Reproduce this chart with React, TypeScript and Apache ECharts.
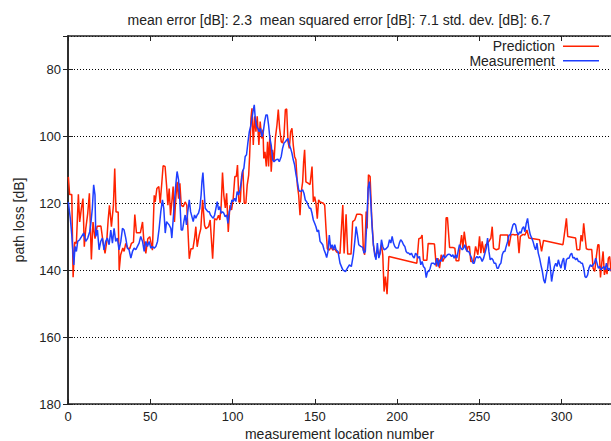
import React, { useEffect, useRef } from 'react';
import * as echarts from 'echarts';

const titleText = 'mean error [dB]: 2.3  mean squared error [dB]: 7.1 std. dev. [dB]: 6.7';
const xName = 'measurement location number';
const yName = 'path loss [dB]';
const seriesNames = ['Prediction', 'Measurement'];

const prediction: [number, number][] = [
  [0.2,112.1],[1,117.4],[2.3,117.4],[3.1,142.1],[4.1,131.6],[5.1,132],[6.3,117.3],[7.1,125.6],[8.1,121.6],[9.1,118.6],
  [9.9,133],[10.8,127.6],[12,123],[13,117],[14.2,136.8],[15.2,125.6],[16.4,130.6],[17.7,126.9],[20,126.8],[21.3,131.6],
  [22.5,135],[23.5,131.6],[24.4,125],[25.2,120.6],[26.4,127],[27.6,120.6],[28.4,109.6],[29.2,122.6],[30.5,122.6],[31.1,140],
  [32,135.4],[33.3,133.4],[34.1,134.4],[35.1,132],[36.3,133.4],[37.5,133.6],[38.5,132],[39.8,131.6],[40.6,123.4],[41.6,128.8],
  [44,128.8],[45.3,125.6],[46,130.6],[47.3,135],[48.5,130.6],[49.7,130],[50.5,132],[51.3,134],[52.4,117.6],[53,119.6],
  [54,115.6],[55.2,115],[56,120],[57,114],[57.8,108.8],[59,109],[59.9,114.6],[60.7,120.6],[61.5,115.6],[62.3,123.6],
  [63.1,119.6],[63.9,115],[64.7,125.6],[65.5,118.6],[66.3,113.6],[67.2,118.6],[68,114],[68.8,120.6],[70,121],[71.2,119.6],
  [72.2,120.6],[73.7,136.6],[74.7,133.6],[75.9,133.6],[76.9,130.6],[77.7,127],[78.5,133],[79.7,129.6],[80.7,127.6],[81.8,119],
  [83,126.6],[83.8,127.6],[85.4,127],[86.4,125],[87.9,136.6],[89.1,124.6],[90.3,125],[91.5,123.6],[92.3,125],[93.1,120.6],
  [93.9,110.8],[94.7,117.6],[95.6,121.4],[96.4,117],[97.4,128.6],[98.4,120.6],[99.4,122],[100.4,118.6],[101.4,112],[102.3,112],
  [103,108.6],[103.9,119.6],[104.7,119.6],[105.5,112],[106.3,110],[107.1,120],[108.1,120],[108.9,114.6],[109.8,111.6],[110.4,105.6],
  [111.2,94.6],[111.8,91.6],[112.6,102.6],[113.4,94],[114.2,98.6],[115,94],[116,102.6],[116.8,95.6],[117.7,100.6],[118.5,98],
  [119,106.6],[119.7,104.6],[120.5,109],[121.3,101.6],[121.9,109],[122.7,99.6],[123.5,110.6],[124.3,104],[125.2,107.6],[126,100.6],
  [127,96.6],[127.8,92],[128.6,97.6],[129.6,101.6],[130.4,102],[131.3,99.6],[132.1,92],[132.9,91.8],[133.7,101.6],[134.5,103.6],
  [135.3,98.6],[136.1,97.6],[136.9,102.6],[137.7,106],[138.5,107],[139.4,114.6],[140.2,117.6],[141,123.6],[141.8,116.6],[142.6,113.6],
  [143.2,107.6],[143.8,104],[144.6,113.6],[145.9,114],[147.1,114.4],[148.3,109],[149.1,119.6],[149.9,118],[150.7,120],[151.5,124.6],
  [152.3,119],[153.2,119.6],[155.2,120],[156,120.6],[156.8,127.6],[157.6,133.6],[158.8,134],[159.9,133],[160.9,134],[162.1,133.6],
  [163.3,134.6],[165.3,135],[167,120.5],[167.8,135],[169,123.3],[170,135.2],[172,135.2],[173,125.5],[174.3,125],[175.5,123.3],
  [177.5,123.3],[178.7,123.5],[179.5,134],[180.3,135.4],[181.2,122.5],[181.8,127.5],[182.6,111.5],[183.6,112],[184.6,124.5],[185.6,132.4],
  [186.8,136],[188,134.4],[189.3,135.4],[190.5,132.4],[191.3,135.4],[192.1,146.4],[192.9,141.9],[193.9,147.2],[195,135.9],[212,137.9],
  [213.2,130.6],[214.4,130.4],[215.2,129.5],[216,137],[218.1,137],[218.9,132],[221.7,132.1],[222.7,132.2],[223.8,138.9],[224.8,136.4],
  [225.8,139.4],[226.8,135.4],[227.8,137.4],[229,135.9],[229.8,124.3],[230.6,124.3],[231.9,133.2],[233.9,133.2],[235.1,133.4],[235.9,137.2],
  [237.5,137.2],[238.4,132.4],[239.2,129.5],[240,133.4],[240.8,128.5],[241.6,131.4],[242.4,134.4],[243.2,132.9],[244,132.9],[244.8,137.4],
  [246.5,137.4],[247.7,132.9],[249.1,135.4],[250.1,129.9],[250.9,134.9],[251.7,131.4],[252.8,134.9],[253.8,132.4],[255,131.9],[255.8,131.4],
  [257,130.4],[257.8,127],[258.6,133.4],[260.3,133.9],[261.9,133.6],[262.7,129.5],[264.3,129.5],[265.9,129.5],[267.2,129.5],[268,132.9],
  [269.2,129.5],[270.4,129.3],[271.6,129.5],[273.2,129.3],[274.1,134.9],[274.9,129.9],[276.5,129.3],[277.7,129.5],[278.9,128],[280.1,130.4],
  [286.6,130.9],[287.8,134.4],[289,131.1],[300.8,132.4],[302,128],[302.9,124.5],[303.7,129.9],[308.5,130.4],[309.3,133.9],[311,133.9],
  [311.8,129.5],[312.6,131.4],[313.4,126],[314.2,129.9],[315,133.6],[316.2,133.8],[318.3,133.8],[319.1,139.4],[320.1,140.4],[321.1,135.9],
  [322,132.4],[322.7,132.4],[323.6,142.2],[324.4,137.9],[325.2,134.4],[326,141.4],[326.8,139.4],[327.6,141.2],[328.4,136.4],[329.2,135.9],
  [330,140.4]
];

const measurement: [number, number][] = [
  [0.2,119.6],[1.4,124.5],[2.3,129.5],[3.5,138.4],[4.3,132.9],[5.1,134.4],[5.9,131.4],[7.1,130.9],[8.3,129.9],[9.5,128.9],
  [10.8,131.4],[12,130.4],[13.2,128.5],[14,125.5],[14.8,121.5],[15.6,114.5],[16.4,117.5],[16.9,129.9],[17.9,128],[18.9,133.9],
  [19.9,131.4],[20.9,130.4],[21.9,133.9],[22.9,131.4],[23.9,130.4],[25,132.4],[26,128],[27,131.9],[28,127.5],[29,131.4],
  [30,130.4],[31,133.9],[32.1,131.4],[33.1,127.5],[34.1,128],[35.1,130.4],[36.1,133.4],[37.1,133.9],[38.2,136.4],[39.2,134.4],
  [40.2,133.4],[41.2,133.9],[42.2,132.9],[43.2,131.9],[44.2,129.9],[45.3,131.4],[46.3,134.4],[47.3,131.4],[48.3,132.9],[49.3,131.4],
  [50.3,133.4],[51.3,132.9],[52.4,133.4],[53.4,132.9],[54.4,131.4],[55.4,127.5],[56.4,122.5],[57.4,119],[58.2,121.5],[59.1,128.9],
  [59.9,125.5],[60.7,126],[61.5,126.5],[62.5,127.5],[63.1,130.4],[63.9,125],[64.7,119.5],[65.5,114.5],[66.3,110.5],[67.2,113],
  [68,119.5],[68.8,128],[69.6,128],[70.4,125.5],[71.2,123.5],[72,126.5],[72.8,122.5],[73.7,119],[74.5,122.5],[75.3,124],
  [76.1,125.5],[76.9,123.5],[77.7,124.5],[78.5,123.5],[79.3,123],[80.1,121.5],[80.9,117.5],[81.4,113.5],[82,110.8],[82.6,115.5],
  [83.4,121.5],[84.2,122],[85,122.5],[85.8,122.5],[86.6,123.5],[87.4,124],[88.3,124.5],[89.1,123.5],[89.9,121.5],[90.7,119.5],
  [91.5,122],[92.3,121],[93.1,123],[93.9,122.5],[94.7,123],[95.5,124],[96.4,123.5],[97.2,126],[98,122.5],[98.8,121.5],
  [99.6,119],[100.4,119.5],[101.2,118.5],[102,119.5],[102.8,116.5],[103.7,117.5],[104.5,116],[105.3,113.5],[106.1,110.5],[106.9,109.5],
  [107.7,106],[108.5,105.5],[109.3,102],[110.2,98.6],[111,97],[111.8,94.6],[112.6,92.1],[113.2,90.6],[113.8,94.6],[114.6,97],
  [115.4,97.6],[116.2,98.6],[117,97.6],[117.9,100.1],[118.7,98.6],[119.5,95.6],[120.3,93.6],[121.1,93.6],[121.9,96.6],[122.7,100.6],
  [123.5,102.6],[124.4,107],[125.2,107.6],[126.4,107],[127.6,106.8],[128.4,107.6],[129.6,106],[130.4,103.6],[131.3,102],[132.1,101.6],
  [132.9,101.1],[133.7,100.6],[134.5,102.6],[135.3,103.6],[136.1,105],[136.9,107],[137.7,108.5],[138.6,111.5],[139.4,113.5],[140.2,116],
  [141,116.5],[141.8,116.3],[142.6,116],[143.4,117],[144.2,119],[145,119.5],[145.9,120.5],[146.7,121.5],[147.5,121.5],[148.3,123],
  [149.1,125],[149.9,126],[150.7,127],[151.5,128.5],[152.3,128],[153.2,131.4],[154,131.9],[154.8,132.4],[155.6,133.9],[156.4,134.9],
  [157.2,136.2],[158,134.4],[158.8,129.5],[159.6,133.4],[160.5,132.4],[161.3,133.9],[162.1,132.4],[162.9,133.9],[164.1,134.4],[165.3,137.9],
  [167,139.9],[168.6,140.4],[169.8,139.4],[171,138.4],[172.2,138.9],[173.4,135.4],[174.3,131.4],[175.1,127],[175.9,129.5],[176.7,132.4],
  [177.9,132.9],[179.1,133.2],[179.9,134.9],[180.7,134.4],[181.6,125.5],[182.4,115.5],[183.2,113.5],[184,119.5],[184.8,127],[185.6,132.4],
  [186.4,135.4],[187.2,136.9],[188,131.9],[188.9,136.4],[189.7,134.9],[190.5,130.9],[191.3,132.9],[192.1,133.9],[193.3,133.6],[194.5,132.9],
  [195.4,130.9],[196.2,131.9],[197,129.9],[197.8,131.9],[198.6,132.9],[199.4,133.4],[200.6,133.4],[201.4,131.9],[202.2,130.9],[203,131.4],
  [203.9,132.4],[204.7,132.9],[205.5,134.4],[206.3,134.9],[207.1,134.9],[207.9,135.4],[208.7,134.9],[209.6,135.9],[210.4,136.4],[211.2,134.9],
  [212,135.4],[212.8,136.4],[213.6,135.9],[214.4,138.4],[215.2,137.4],[216,138.9],[216.9,139.4],[217.7,142.2],[218.5,140.4],[219.3,140.4],
  [220.1,139.4],[220.9,137.9],[222.1,137.9],[223.3,138.4],[224.2,136.4],[225,138.9],[225.8,136.9],[226.6,137.4],[227.4,136.4],[228.2,135.4],
  [229,136.4],[229.8,135.9],[230.6,135.4],[231.5,135.2],[232.3,135.4],[233.1,135.9],[233.9,135.4],[234.7,136.4],[235.5,135.4],[236.3,136.4],
  [237.1,134.4],[237.9,132.4],[238.8,133.4],[239.6,133.9],[240.4,133.4],[241.2,132.4],[242,133.9],[242.8,134.4],[243.6,134.4],[244.4,135.4],
  [245.3,136.4],[246.1,137.9],[246.9,137.9],[247.7,136.4],[248.5,135.9],[249.3,136.4],[250.1,135.9],[250.9,136.4],[251.7,137.4],[252.6,136.4],
  [253.4,134.9],[254.2,133.4],[255,130.4],[255.8,134.4],[256.6,136.9],[257.4,136.4],[258.2,136.9],[259,137.9],[259.9,137.9],[260.7,139.4],
  [261.5,139.4],[262.3,138.4],[263.1,137.9],[263.9,135.4],[264.7,134.4],[265.5,134.4],[266.3,132.9],[267.2,131.4],[268,129.5],[268.8,129.5],
  [269.6,128],[270.4,126.5],[271.2,126],[272,126.5],[272.8,128.5],[273.7,129.5],[274.5,128.5],[275.3,129],[276.1,127.5],[276.9,127],
  [277.7,128.5],[278.5,126],[279.3,124.5],[280.1,127.5],[281,129.5],[281.8,130.4],[282.6,131.4],[283.4,132.9],[284.2,133.9],[285,131.9],
  [285.8,134.9],[286.6,136.4],[287.4,138.4],[288.3,140.4],[289.1,142.9],[289.9,143.9],[290.7,141.4],[291.5,139.4],[292.3,135.9],[293.1,138.9],
  [293.9,143.4],[294.7,140.9],[295.6,138.9],[296.4,137.9],[297.2,138.9],[298,136.9],[298.8,138.4],[299.6,139.4],[300.4,137.4],[301.2,136.4],
  [302,139.9],[302.9,136.9],[303.7,136.4],[304.5,136.4],[305.3,135.4],[306.1,134.9],[306.9,136.4],[307.7,136.2],[308.5,136.9],[309.3,136.4],
  [310.2,137.4],[311,137.4],[311.8,137.9],[312.6,137.9],[313.4,139.4],[314.2,141.9],[315,142.2],[315.8,141.4],[316.6,139.4],[317.5,138.4],
  [318.3,138.9],[319.1,138.4],[319.9,137.9],[320.7,136.4],[321.5,137.9],[322.3,139.4],[323.1,138.9],[323.9,139.9],[324.7,139.4],[325.6,138.9],
  [326.4,139.9],[327.2,137.9],[328,139.9],[328.8,139.4],[329.6,140.2]
];

const RED = '#ff2200';
const BLUE = '#1f3fff';
const INK = '#222222';
const FONT = '"Liberation Sans", Arial, Helvetica, sans-serif';

export default function App() {
  const ref = useRef<HTMLDivElement>(null);
  useEffect(() => {
    document.body.style.margin = '0';
    const chart = echarts.init(ref.current!, null, { renderer: 'svg' });
    const axisLine = { show: true, lineStyle: { color: INK, width: 1.5 } };
    const axisTick = { show: true, inside: true, length: 5, lineStyle: { color: INK, width: 1 } };
    chart.setOption({
      animation: false,
      backgroundColor: '#ffffff',
      textStyle: { fontFamily: FONT },
      title: {
        text: titleText,
        left: 334,
        textAlign: 'center',
        top: 8,
        textStyle: { fontSize: 14, fontWeight: 'normal', color: INK, fontFamily: FONT },
      },
      legend: {
        data: seriesNames,
        orient: 'vertical',
        right: 7,
        top: 34,
        align: 'right',
        icon: 'rect',
        itemWidth: 36,
        itemHeight: 1.5,
        itemGap: 0,
        textStyle: { fontSize: 14, color: INK, fontFamily: FONT, lineHeight: 14.5, padding: [0, 3, 0, 0] },
      },
      grid: { left: 68, right: 0, top: 36, bottom: 37, containLabel: false, outerBoundsMode: 'none' },
      xAxis: [
        {
          type: 'value', min: 0, max: 330, interval: 50, position: 'bottom',
          axisLine, axisTick,
          axisLabel: { fontSize: 13, lineHeight: 13, color: INK, margin: 6, showMaxLabel: false, fontFamily: FONT },
          splitLine: { show: false },
          name: xName, nameLocation: 'middle', nameGap: 23, nameMoveOverlap: false,
          nameTextStyle: { fontSize: 14, lineHeight: 14, color: INK, fontFamily: FONT },
        },
        {
          type: 'value', min: 0, max: 330, interval: 50, position: 'top',
          axisLine, axisTick,
          axisLabel: { show: false },
          splitLine: { show: false },
        },
      ],
      yAxis: [
        {
          type: 'value', inverse: true, min: 70, max: 180, splitNumber: 5, position: 'left',
          axisLine, axisTick,
          axisLabel: { fontSize: 13, color: INK, margin: 7, showMinLabel: false, fontFamily: FONT },
          splitLine: { show: true, lineStyle: { color: '#000', width: 1, type: [1, 2] } },
          name: yName, nameLocation: 'middle', nameGap: 42, nameRotate: 90, nameMoveOverlap: false,
          nameTextStyle: { fontSize: 14, color: INK, fontFamily: FONT },
        },
        {
          type: 'value', inverse: true, min: 70, max: 180, splitNumber: 5, position: 'right',
          axisLine, axisTick,
          axisLabel: { show: false },
          splitLine: { show: false },
        },
      ],
      series: [
        {
          type: 'line', name: seriesNames[0], data: prediction, xAxisIndex: 0, yAxisIndex: 0,
          symbol: 'none', showSymbol: false,
          lineStyle: { color: RED, width: 1.5 }, itemStyle: { color: RED },
        },
        {
          type: 'line', name: seriesNames[1], data: measurement, xAxisIndex: 0, yAxisIndex: 0,
          symbol: 'none', showSymbol: false,
          lineStyle: { color: BLUE, width: 1.5 }, itemStyle: { color: BLUE },
        },
      ],
    });
    return () => chart.dispose();
  }, []);
  return <div ref={ref} style={{ width: 611, height: 441 }} />;
}
